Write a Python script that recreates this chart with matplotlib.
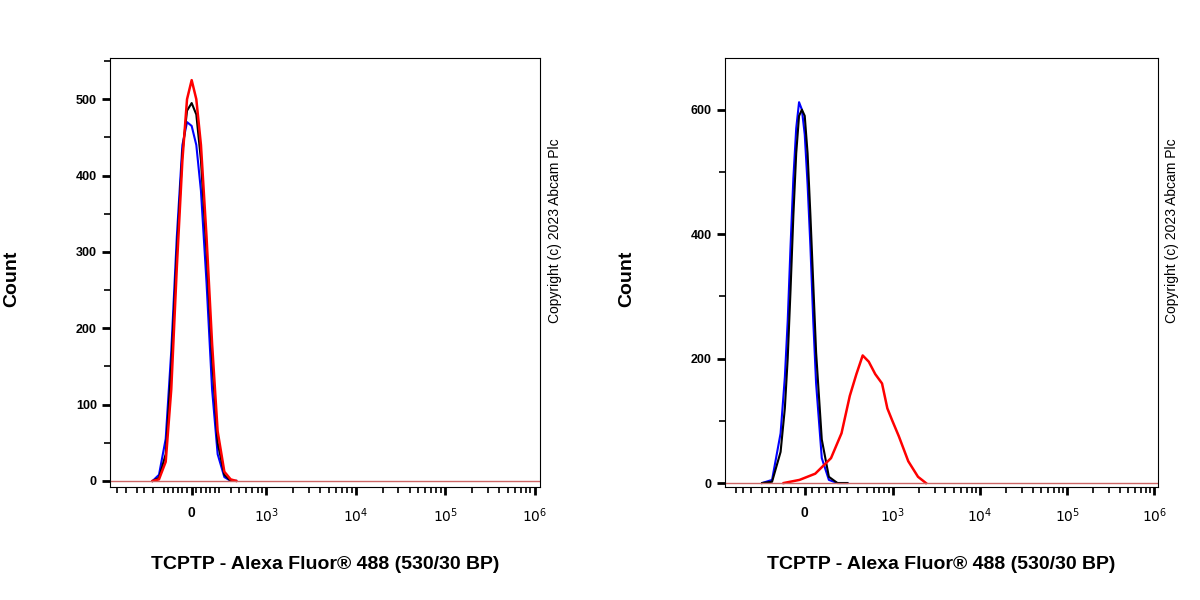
import matplotlib
matplotlib.use("Agg")
import matplotlib.pyplot as plt
from matplotlib.ticker import FixedLocator, FixedFormatter

plt.rcParams["font.family"] = "Liberation Sans"

# Left panel data
left_x = [-400, -340, -280, -220, -160, -100, -50, 0, 50, 100, 160, 220, 280, 340, 400, 460]
left_black = [0, 4, 35, 150, 300, 430, 485, 495, 480, 420, 300, 160, 50, 8, 0, 0]
left_red = [0, 2, 25, 120, 280, 420, 500, 525, 500, 440, 320, 180, 65, 12, 2, 0]
left_blue = [0, 8, 55, 170, 320, 440, 470, 465, 440, 380, 260, 120, 35, 5, 0, 0]

# Right panel data
right_x = [-300, -230, -170, -140, -120, -100, -80, -60, -40, -20, 0, 20, 40, 60, 80, 120, 170, 230, 300]
right_blue = [0, 5, 80, 170, 260, 380, 490, 570, 612, 600, 560, 480, 380, 260, 160, 40, 5, 0, 0]
right_black = [0, 2, 50, 120, 200, 310, 430, 530, 590, 600, 590, 530, 430, 320, 210, 70, 10, 0, 0]
red_x = [-148, -37, 74, 185, 259, 320, 381, 450, 528, 627, 750, 863, 985, 1170, 1500, 1940, 2390]
red_y = [0, 5, 15, 40, 80, 140, 175, 205, 195, 175, 160, 120, 100, 75, 35, 10, 0]

major_x = [0, 1e3, 1e4, 1e5, 1e6]
major_lbl = ["0", "$10^3$", "$10^4$", "$10^5$", "$10^6$"]
minor_x = [-1000, -800, -600, -500, -400, -300, -250, -200, -150, -100, -50, 50, 100, 150, 200, 250,
           300, 400, 500, 600, 700, 800, 900]
for dec in [1e3, 1e4, 1e5]:
    minor_x += [dec * k for k in range(2, 10)]

fig = plt.figure(figsize=(12, 6), dpi=100)
xlabel = "TCPTP - Alexa Fluor® 488 (530/30 BP)"

def setup(ax, linscale, xlim, ylim, ymaj, ymin):
    ax.set_xscale("symlog", linthresh=300, linscale=linscale)
    ax.set_xlim(*xlim)
    ax.set_ylim(*ylim)
    ax.xaxis.set_major_locator(FixedLocator(major_x))
    ax.xaxis.set_major_formatter(FixedFormatter(major_lbl))
    ax.xaxis.set_minor_locator(FixedLocator([m for m in minor_x if xlim[0] < m < xlim[1]]))
    ax.set_yticks(ymaj)
    ax.set_yticks(ymin, minor=True)
    ax.tick_params(axis="both", which="major", length=6, width=2, labelsize=10, direction="out")
    ax.tick_params(axis="both", which="minor", length=4, width=1.2, direction="out")
    ax.tick_params(axis="y", labelsize=9)
    for lab in ax.get_xticklabels() + ax.get_yticklabels():
        lab.set_fontweight("bold")
    ax.tick_params(axis="x", pad=8)
    ax.set_xlabel(xlabel, fontsize=14, fontweight="bold", labelpad=22)

ax1 = fig.add_axes([110/1200, 1-487/600, 430/1200, 429/600])
ax1.plot(left_x, left_blue, color="#0000ff", lw=1.5)
ax1.plot(left_x, left_black, color="black", lw=1.5)
ax1.plot(left_x, left_red, color="#ff0000", lw=1.8)
ax1.axhline(0, color="#cc6666", lw=1)
setup(ax1, 0.28, (-1200, 1.15e6), (-8, 554), [0, 100, 200, 300, 400, 500], list(range(50, 551, 100)))
fig.text(12/1200, 0.535, "Count", rotation=90, fontsize=14, fontweight="bold", ha="center", va="center")
fig.text(555/1200, 0.615, "Copyright (c) 2023 Abcam Plc", rotation=90, fontsize=10, ha="center", va="center")

ax2 = fig.add_axes([725/1200, 1-487/600, 433/1200, 429/600])
ax2.plot(right_x, right_blue, color="#0000ff", lw=1.5)
ax2.plot(right_x, right_black, color="black", lw=1.5)
ax2.plot(red_x, red_y, color="#ff0000", lw=1.8)
ax2.axhline(0, color="#cc6666", lw=1)
setup(ax2, 0.44, (-800, 1.1e6), (-6.4, 683), [0, 200, 400, 600], [100, 300, 500])
fig.text(627/1200, 0.535, "Count", rotation=90, fontsize=14, fontweight="bold", ha="center", va="center")
fig.text(1172/1200, 0.615, "Copyright (c) 2023 Abcam Plc", rotation=90, fontsize=10, ha="center", va="center")

fig.savefig("out.png", dpi=100)
